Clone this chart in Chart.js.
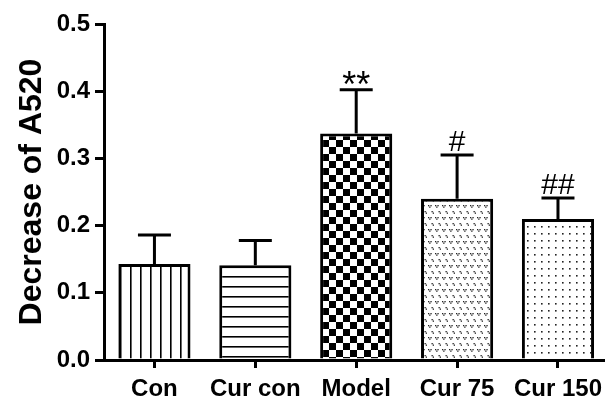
<!DOCTYPE html>
<html>
<head>
<meta charset="utf-8">
<script src="https://cdn.jsdelivr.net/npm/chart.js@4/dist/chart.umd.min.js"></script>
<style>
  html, body { margin: 0; padding: 0; background: #fff; overflow: hidden; }
  #wrap { width: 609px; height: 396px; }
  canvas { display: block; }
</style>
</head>
<body>
<div id="wrap"><canvas id="c" width="609" height="396"></canvas></div>
<script>
// Group names, mean decrease of A520, upper error (SD) and significance marks
const categories = ['Con', 'Cur con', 'Model', 'Cur 75', 'Cur 150'];
const means = [0.143, 0.141, 0.337, 0.240, 0.210];
const errors = [0.043, 0.037, 0.065, 0.065, 0.031];
const marks = ['', '', '**', '#', '##'];
const yMin = 0, yMax = 0.5, yStep = 0.1;

const FONT = "'Liberation Sans', Arial, Helvetica, sans-serif";

// ---- fill patterns for each bar ----
function tile(w, h, draw) {
  const cv = document.createElement('canvas');
  cv.width = w; cv.height = h;
  const g = cv.getContext('2d');
  g.fillStyle = '#fff';
  g.fillRect(0, 0, w, h);
  draw(g);
  return document.getElementById('c').getContext('2d').createPattern(cv, 'repeat');
}
const vertical = tile(10, 10, g => { g.fillStyle = '#000'; g.fillRect(0, 0, 1.6, 10); });
const horizontal = tile(10, 10, g => { g.fillStyle = '#000'; g.fillRect(0, 6, 10, 1.6); });
const checker = tile(14, 14, g => {
  g.fillStyle = '#000';
  g.fillRect(0, 0, 7, 7);
  g.fillRect(7, 7, 7, 7);
});
const vmarks = tile(7, 12, g => {
  g.fillStyle = '#222';
  [[1, 1], [4.5, 7]].forEach(([x, y]) => {
    g.fillRect(x, y, 1.3, 1.3);
    g.fillRect(x + 2.4, y, 1.3, 1.3);
    g.fillRect(x + 1.2, y + 1.5, 1.3, 1.3);
  });
});
const dots = tile(7, 7, g => { g.fillStyle = '#222'; g.fillRect(2, 2, 1.6, 1.6); });
const fills = [vertical, horizontal, checker, vmarks, dots];

// ---- error bars and significance marks ----
const errorBars = {
  id: 'errorBars',
  afterDatasetsDraw(chart) {
    const { ctx, scales: { x, y } } = chart;
    ctx.save();
    ctx.strokeStyle = '#000';
    ctx.lineWidth = 3;
    ctx.lineCap = 'butt';
    means.forEach((m, i) => {
      const cx = x.getPixelForValue(i);
      const y0 = y.getPixelForValue(m);
      const y1 = y.getPixelForValue(m + errors[i]);
      ctx.beginPath();
      ctx.moveTo(cx, y0);
      ctx.lineTo(cx, y1);
      ctx.moveTo(cx - 16.5, y1);
      ctx.lineTo(cx + 16.5, y1);
      ctx.stroke();
      const t = marks[i];
      if (t) {
        const star = t.includes('*');
        const size = star ? 36 : 30;
        ctx.font = `normal ${size}px ${FONT}`;
        ctx.fillStyle = '#000';
        ctx.textAlign = 'center';
        ctx.textBaseline = 'alphabetic';
        const mt = ctx.measureText(t);
        const center = y1 - (star ? 12 : 14);
        const base = center + (mt.actualBoundingBoxAscent - mt.actualBoundingBoxDescent) / 2;
        ctx.fillText(t, cx, base);
      }
    });
    ctx.restore();
  }
};

new Chart(document.getElementById('c'), {
  type: 'bar',
  data: {
    labels: categories,
    datasets: [{
      data: means,
      backgroundColor: fills,
      borderColor: '#000',
      borderWidth: 3,
      borderSkipped: 'start',
      categoryPercentage: 1,
      barPercentage: 0.715
    }]
  },
  options: {
    responsive: false,
    devicePixelRatio: 1,
    animation: false,
    layout: { padding: { top: 24, left: 0, right: 0, bottom: 0 } },
    plugins: { legend: { display: false }, tooltip: { enabled: false } },
    scales: {
      x: {
        z: 1,
        grid: { display: true, drawOnChartArea: false, drawTicks: true, offset: false, tickLength: 8, lineWidth: 3, color: '#000' },
        border: { display: true, color: '#000', width: 3 },
        ticks: { color: '#000', padding: 7, maxRotation: 0, autoSkip: false, font: { family: FONT, size: 24, weight: 'bold' } },
        afterFit(s) { s.height = 36; }
      },
      y: {
        z: 1,
        min: yMin,
        max: yMax,
        ticks: {
          stepSize: yStep,
          color: '#000',
          padding: 5,
          font: { family: FONT, size: 24, weight: 'bold' },
          callback: v => Number(v).toFixed(1)
        },
        grid: { display: true, drawOnChartArea: false, drawTicks: true, tickLength: 9, lineWidth: 3, color: '#000' },
        border: { display: true, color: '#000', width: 3 },
        title: {
          display: true,
          text: 'Decrease of A520',
          color: '#000',
          padding: { top: 13, bottom: 0 },
          font: { family: FONT, size: 32, weight: 'bold' }
        },
        afterFit(s) { s.width = 104; }
      }
    }
  },
  plugins: [errorBars]
});
</script>
</body>
</html>
